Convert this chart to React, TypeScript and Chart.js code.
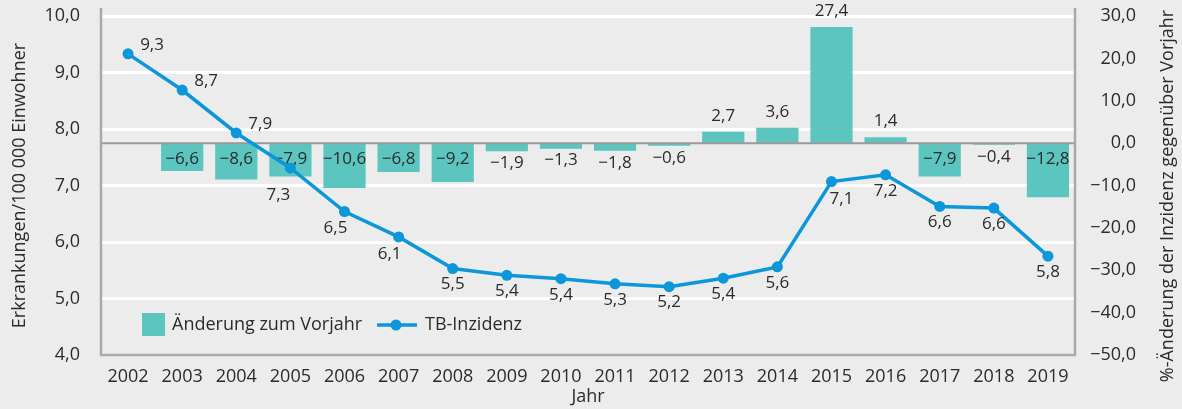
import React, { useEffect, useRef } from 'react';
import { Chart, registerables } from 'chart.js';

Chart.register(...registerables);

const years = ['2002', '2003', '2004', '2005', '2006', '2007', '2008', '2009', '2010', '2011', '2012', '2013', '2014', '2015', '2016', '2017', '2018', '2019'];
const incidence = [9.33, 8.69, 7.93, 7.31, 6.54, 6.09, 5.53, 5.41, 5.35, 5.26, 5.21, 5.36, 5.56, 7.07, 7.19, 6.63, 6.6, 5.75];
const incidenceLabels = ['9,3', '8,7', '7,9', '7,3', '6,5', '6,1', '5,5', '5,4', '5,4', '5,3', '5,2', '5,4', '5,6', '7,1', '7,2', '6,6', '6,6', '5,8'];
const changeVsPrevYear = [null, -6.6, -8.6, -7.9, -10.6, -6.8, -9.2, -1.9, -1.3, -1.8, -0.6, 2.7, 3.6, 27.4, 1.4, -7.9, -0.4, -12.8];
const incidenceLabelPlacement = ['ne', 'ne', 'ne', 'ssw', 'sw', 'sw', 's', 's', 's', 's', 's', 's', 's', 'se', 's', 's', 's', 's'];
const leftAxis = { min: 4, max: 10, step: 1 };
const rightAxis = { min: -50, max: 30, step: 10 };

const leftTitle = 'Erkrankungen/100 000 Einwohner';
const rightTitle = '%-Änderung der Inzidenz gegenüber Vorjahr';
const xTitle = 'Jahr';
const barLegend = 'Änderung zum Vorjahr';
const lineLegend = 'TB-Inzidenz';

const BG = '#ebeceb';
const TEAL = '#5cc5bf';
const BLUE = '#0b97d9';
const TEXT = '#2b2b2b';
const FRAME = '#a9a9a9';
const FONT = '"Open Sans", sans-serif';

const fmt = (v: number) => (v < 0 ? '\u2212' : '') + Math.abs(v).toFixed(1).replace('.', ',');

const placementOffsets: Record<string, [number, number]> = {
  ne: [24, -9],
  s: [0, 16],
  sw: [-9, 17],
  ssw: [-12, 27],
  se: [10, 18],
};

export default function App() {
  const ref = useRef<HTMLCanvasElement | null>(null);

  useEffect(() => {
    const canvas = ref.current;
    if (!canvas) return;

    const custom = {
      id: 'custom',
      beforeDatasetDraw(chart: any, args: any) {
        if (args.index !== 1) return;
        const ctx = chart.ctx;
        const { left, right } = chart.chartArea;
        const y1 = chart.scales.y1;
        const zero = y1.getPixelForValue(0);
        ctx.save();
        ctx.strokeStyle = '#9a9a9a';
        ctx.lineWidth = 2;
        ctx.beginPath();
        ctx.moveTo(left, zero);
        ctx.lineTo(right, zero);
        ctx.stroke();
        const meta = chart.getDatasetMeta(0);
        ctx.fillStyle = TEXT;
        ctx.font = `17px ${FONT}`;
        ctx.textAlign = 'center';
        ctx.textBaseline = 'middle';
        meta.data.forEach((el: any, i: number) => {
          const v = changeVsPrevYear[i];
          if (v === null || v === undefined) return;
          const end = y1.getPixelForValue(v);
          let y: number;
          if (v >= 0) y = end - 16;
          else if (end - zero < 12) y = end + 12;
          else y = zero + 16;
          ctx.fillText(fmt(v), el.x, y);
        });
        ctx.restore();
      },
      afterDatasetsDraw(chart: any) {
        const ctx = chart.ctx;
        const meta = chart.getDatasetMeta(1);
        ctx.save();
        ctx.fillStyle = TEXT;
        ctx.font = `17px ${FONT}`;
        ctx.textAlign = 'center';
        ctx.textBaseline = 'middle';
        meta.data.forEach((el: any, i: number) => {
          const [dx, dy] = placementOffsets[incidenceLabelPlacement[i]] || [0, 16];
          ctx.fillText(incidenceLabels[i], el.x + dx, el.y + dy);
        });
        ctx.restore();
      },
      afterDraw(chart: any) {
        const ctx = chart.ctx;
        const { left, right, top, bottom } = chart.chartArea;
        ctx.save();
        ctx.strokeStyle = FRAME;
        ctx.lineWidth = 2.5;
        ctx.beginPath();
        ctx.moveTo(left, top - 8);
        ctx.lineTo(left, bottom);
        ctx.lineTo(right, bottom);
        ctx.lineTo(right, top - 8);
        ctx.stroke();

        ctx.fillStyle = TEAL;
        ctx.fillRect(142, 313, 23, 23);
        ctx.fillStyle = TEXT;
        ctx.font = `18px ${FONT}`;
        ctx.textAlign = 'left';
        ctx.textBaseline = 'middle';
        ctx.fillText(barLegend, 172, 325);
        ctx.strokeStyle = BLUE;
        ctx.lineWidth = 3.5;
        ctx.beginPath();
        ctx.moveTo(377, 325);
        ctx.lineTo(417, 325);
        ctx.stroke();
        ctx.fillStyle = BLUE;
        ctx.beginPath();
        ctx.arc(396, 325, 5.5, 0, Math.PI * 2);
        ctx.fill();
        ctx.fillStyle = TEXT;
        ctx.fillText(lineLegend, 425, 325);

        ctx.textAlign = 'center';
        ctx.fillText(xTitle, (left + right) / 2, 397);
        ctx.save();
        ctx.translate(20, (top + bottom) / 2);
        ctx.rotate(-Math.PI / 2);
        ctx.fillText(leftTitle, 0, 0);
        ctx.restore();
        ctx.save();
        ctx.translate(1168, 196);
        ctx.rotate(-Math.PI / 2);
        ctx.fillText(rightTitle, 0, 0);
        ctx.restore();
        ctx.restore();
      },
    };

    const noPad = (s: any) => { s.paddingTop = 0; s.paddingBottom = 0; };

    const chart = new Chart(canvas, {
      data: {
        labels: years,
        datasets: [
          {
            type: 'bar',
            label: barLegend,
            data: changeVsPrevYear as any,
            yAxisID: 'y1',
            backgroundColor: TEAL,
            barPercentage: 0.78,
            categoryPercentage: 1.0,
            order: 2,
          },
          {
            type: 'line',
            label: lineLegend,
            data: incidence,
            yAxisID: 'y',
            borderColor: BLUE,
            backgroundColor: BLUE,
            borderWidth: 3.5,
            pointRadius: 5.5,
            pointBackgroundColor: BLUE,
            pointBorderWidth: 0,
            tension: 0,
            order: 1,
          },
        ],
      } as any,
      options: {
        animation: false,
        responsive: false,
        devicePixelRatio: 1,
        layout: { padding: { top: 16, right: 46, left: 0, bottom: 0 } },
        plugins: { legend: { display: false }, tooltip: { enabled: false } },
        scales: {
          x: {
            type: 'category',
            grid: { display: false, drawTicks: false },
            border: { display: false },
            ticks: { font: { family: FONT, size: 18 }, color: TEXT, padding: 11, maxRotation: 0, autoSkip: false },
            afterFit: (s: any) => { s.height = 54; s.paddingLeft = 0; s.paddingRight = 0; },
          },
          y: {
            position: 'left',
            min: leftAxis.min,
            max: leftAxis.max,
            grid: { color: (c: any) => (c.tick && c.tick.value === leftAxis.min ? 'rgba(0,0,0,0)' : '#ffffff'), lineWidth: 3, drawTicks: false },
            border: { display: false },
            ticks: { stepSize: leftAxis.step, font: { family: FONT, size: 18 }, color: TEXT, padding: 21, callback: (v: any) => fmt(Number(v)) },
            afterFit: (s: any) => { s.width = 101; noPad(s); },
          },
          y1: {
            position: 'right',
            min: rightAxis.min,
            max: rightAxis.max,
            grid: { display: false, drawTicks: false },
            border: { display: false },
            ticks: { stepSize: rightAxis.step, font: { family: FONT, size: 18 }, color: TEXT, padding: 14, crossAlign: 'far', callback: (v: any) => fmt(Number(v)) },
            afterFit: (s: any) => { s.width = 61; noPad(s); },
          },
        },
      } as any,
      plugins: [custom],
    });

    return () => chart.destroy();
  }, []);

  return (
    <div style={{ position: 'fixed', left: 0, top: 0, width: 1182, height: 409, background: BG }}>
      <canvas ref={ref} width={1182} height={409} style={{ display: 'block', width: 1182, height: 409 }} />
    </div>
  );
}
